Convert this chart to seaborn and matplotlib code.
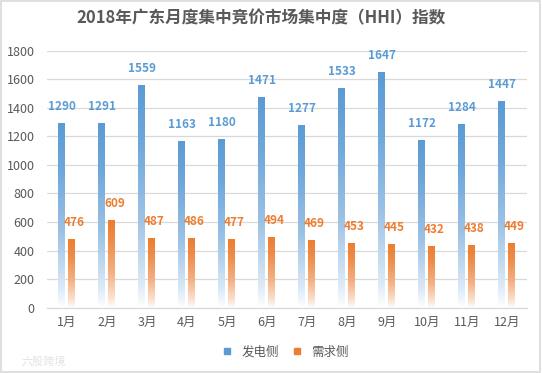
import numpy as np
import pandas as pd
import matplotlib
matplotlib.use("Agg")
import matplotlib.pyplot as plt
import seaborn as sns
from matplotlib.colors import LinearSegmentedColormap, to_rgb
from matplotlib.patches import Rectangle
from matplotlib.lines import Line2D

months = ["1月", "2月", "3月", "4月", "5月", "6月", "7月", "8月", "9月", "10月", "11月", "12月"]
supply = [1290, 1291, 1559, 1163, 1180, 1471, 1277, 1533, 1647, 1172, 1284, 1447]
demand = [476, 609, 487, 486, 477, 494, 469, 453, 445, 432, 438, 449]
series_names = ["发电侧", "需求侧"]
title = "2018年广东月度集中竞价市场集中度（HHI）指数"
yticks = [0, 200, 400, 600, 800, 1000, 1200, 1400, 1600, 1800]

colors = ["#5B9BD5", "#ED7D31"]
label_colors = ["#5B9BD5", "#ED7D31"]

sns.set_theme(style="white")
plt.rcParams["font.family"] = ["Noto Sans CJK SC", "DejaVu Sans"]

df = pd.DataFrame({
    "month": months * 2,
    "value": supply + demand,
    "side": [series_names[0]] * len(months) + [series_names[1]] * len(months),
})

fig = plt.figure(figsize=(5.42, 3.73), dpi=100)
ax = fig.add_axes([0.0867, 0.175, 0.9723 - 0.0867, 0.8646 - 0.175])

sns.barplot(data=df, x="month", y="value", hue="side", order=months,
            hue_order=series_names, palette=colors, width=0.5, gap=0.3,
            ax=ax, legend=False, errorbar=None, saturation=1)

ax.set_yticks(yticks)
ax.set_yticklabels([str(t) for t in yticks])
ax.grid(axis="y", color="#D9D9D9", linewidth=0.9)
ax.set_axisbelow(True)
for s in ["left", "right", "top"]:
    ax.spines[s].set_visible(False)
ax.spines["bottom"].set_color("#D9D9D9")
ax.spines["bottom"].set_linewidth(0.9)
ax.tick_params(axis="both", length=0, colors="#595959", labelsize=9)
ax.tick_params(axis="x", pad=6)
ax.tick_params(axis="y", pad=9)
ax.set_xlabel("")
ax.set_ylabel("")

# gradient fill for each bar
def make_cmap(c):
    r = np.array(to_rgb(c))
    w = np.array([1.0, 1.0, 1.0])
    stops = [(0.0, w), (0.1, 0.8 * w + 0.2 * r), (0.4, 0.4 * w + 0.6 * r),
             (0.75, 0.12 * w + 0.88 * r), (1.0, r)]
    return LinearSegmentedColormap.from_list("g", [(p, tuple(col)) for p, col in stops])

grad = np.linspace(0, 1, 256).reshape(-1, 1)
patches = [p for p in ax.patches if isinstance(p, Rectangle) and p.get_height() > 0]
n = len(months)
for i, p in enumerate(patches):
    k = 0 if i < n else 1
    x0 = p.get_x()
    w = p.get_width()
    h = p.get_height()
    p.set_facecolor("none")
    p.set_edgecolor("none")
    ax.imshow(grad, extent=[x0, x0 + w, 0, h], origin="lower", aspect="auto",
              cmap=make_cmap(colors[k]), zorder=2, interpolation="bilinear")
    ax.annotate(f"{int(round(h))}", (x0 + w / 2 + (0.06 if k == 1 else 0), h),
                xytext=(0, 7.5), textcoords="offset points", ha="center", va="bottom",
                fontsize=8.5, fontweight="bold", color=label_colors[k])

ax.set_xlim(-0.5, len(months) - 0.5)
ax.set_ylim(0, 1800)

fig.text(0.482, 0.952, title, ha="center", va="center", fontsize=12,
         fontweight="bold", color="#595959")

handles = [Line2D([0], [0], marker="s", linestyle="none", markersize=4.5,
                  markerfacecolor=c, markeredgecolor=c) for c in colors]
fig.legend(handles, series_names, loc="center", bbox_to_anchor=(0.52, 0.056),
           ncol=2, frameon=False, fontsize=9, handletextpad=0.1,
           columnspacing=0.5, labelcolor="#595959")

fig.text(0.04, 0.03, "六股跨境", fontsize=8, color="#E3E3E3", ha="left", va="center")

fig.patches.append(Rectangle((0.002, 0.003), 0.995, 0.993, transform=fig.transFigure,
                             fill=False, edgecolor="#D9D9D9", linewidth=1.2))

fig.savefig("out.png", dpi=100)
